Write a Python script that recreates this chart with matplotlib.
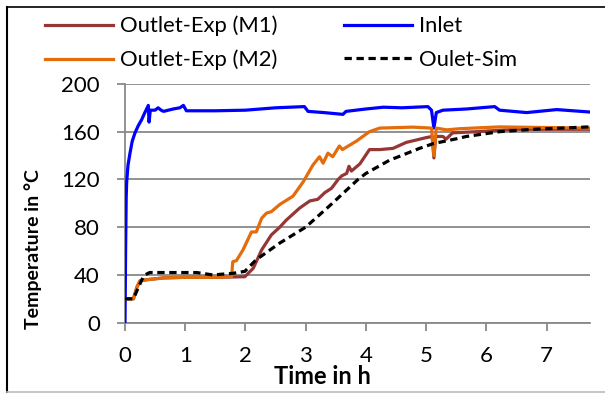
import matplotlib.pyplot as plt
from matplotlib.lines import Line2D

# inlet temperature
t_inlet = [0, 0.01, 0.02, 0.028, 0.05, 0.083, 0.12, 0.166, 0.22, 0.276, 0.33, 0.387, 0.40, 0.42,
           0.5, 0.55, 0.6, 0.64, 0.8, 0.91, 0.97, 1.02, 1.5, 2.0, 2.5, 2.98, 3.04, 3.3, 3.62, 3.67,
           4.0, 4.29, 4.6, 5.03, 5.09, 5.13, 5.17, 5.28, 5.67, 6.14, 6.22, 6.67, 7.17, 7.71]
v_inlet = [0, 60, 105, 118, 132, 142, 152, 159, 165, 170, 176, 182, 168, 178,
           178, 180, 178, 177, 179, 180, 182, 177.5, 177.5, 178, 180, 181, 177, 176, 174.5, 177,
           179, 180.5, 180, 181, 178, 163, 176, 178, 179, 181, 178, 176, 178.5, 176.5]

# outlet, measurement 1
t_m1 = [0, 0.14, 0.2, 0.25, 0.36, 0.64, 1.0, 1.5, 1.99, 2.13, 2.27, 2.43, 2.57, 2.68, 2.9, 3.07,
        3.2, 3.32, 3.43, 3.54, 3.6, 3.68, 3.72, 3.76, 3.9, 4.06, 4.23, 4.45, 4.67, 5.0, 5.1,
        5.13, 5.16, 5.28, 5.33, 5.44, 5.84, 6.5, 7.71]
v_m1 = [20, 20, 30, 35, 36, 37.5, 38, 38, 38.5, 45.6, 61, 73.5, 80, 86, 96, 102,
        103.3, 109, 112.6, 120, 123, 125, 131, 127, 133, 145, 145, 146, 151, 155, 156,
        138, 156, 156, 153.7, 159, 160, 162, 162]

# outlet, measurement 2
t_m2 = [0, 0.14, 0.2, 0.25, 0.36, 0.64, 1.0, 1.5, 1.77, 1.79, 1.85, 1.96, 2.1, 2.18, 2.27, 2.35,
        2.43, 2.57, 2.79, 2.96, 3.12, 3.23, 3.29, 3.37, 3.45, 3.56, 3.61, 3.84, 4.06, 4.23, 4.78,
        5.09, 5.13, 5.17, 5.34, 5.56, 6.22, 7.71]
v_m2 = [20, 20, 30, 35, 36, 37.5, 38, 38, 38.6, 51, 52, 61, 76, 76, 87.5, 91.8,
        93, 99, 106, 118, 132, 139, 133.6, 142, 139, 148, 145, 152, 160, 163, 163.8,
        163, 140, 163, 161.5, 162.5, 164, 163]

# outlet, simulation
t_sim = [0, 0.14, 0.2, 0.28, 0.33, 0.41, 0.8, 1.19, 1.46, 1.8, 1.99, 2.18, 2.57, 3.0, 3.4,
         3.87, 4.0, 4.39, 4.89, 5.12, 5.5, 5.67, 6.22, 6.78, 7.71]
v_sim = [20, 20, 27, 36, 40, 42, 42, 42, 40, 41.4, 43, 52.8, 66.7, 80, 98,
         120, 125, 136, 146, 150, 154, 156, 160, 162, 164]

xticks = [0, 1, 2, 3, 4, 5, 6, 7]
yticks = [0, 40, 80, 120, 160, 200]

plt.rcParams['font.family'] = ['Lato', 'DejaVu Sans']
grey = '#898989'

fig = plt.figure(figsize=(6.05, 3.94), dpi=100)
ax = fig.add_axes([0.2066, 0.181, 0.7684, 0.606])

ax.plot(t_m1, v_m1, color='#953735', lw=2.3, label='Outlet-Exp (M1)', zorder=3)
ax.plot(t_m2, v_m2, color='#E46C0A', lw=2.3, label='Outlet-Exp (M2)', zorder=4)
ax.plot(t_inlet, v_inlet, color='#0000FF', lw=2.3, label='Inlet', zorder=3)
ax.plot(t_sim, v_sim, color='black', lw=2.3, dashes=(2.3, 1.45), label='Oulet-Sim', zorder=5)

ax.set_xlim(0, 7.72)
ax.set_ylim(0, 200)
ax.set_xticks(xticks)
ax.set_yticks(yticks)
ax.yaxis.grid(True, color=grey, lw=1.3)
ax.set_axisbelow(True)
for s in ['top', 'right']:
    ax.spines[s].set_visible(False)
for s in ['left', 'bottom']:
    ax.spines[s].set_color(grey)
    ax.spines[s].set_linewidth(1.3)
ax.tick_params(axis='both', direction='out', length=6, width=1.3, color=grey, labelsize=16)
ax.tick_params(axis='y', pad=12)
ax.tick_params(axis='x', pad=10.5)

# axis titles
fig.text(322 / 605, 1 - 377 / 394, 'Time in h', fontsize=17, fontweight='bold',
         ha='center', va='center')
fig.text(33 / 605, 1 - 249 / 394, 'Temperature in °C', fontsize=14, fontweight='bold',
         rotation=90, ha='center', va='center')

fig.legend(loc='center left', bbox_to_anchor=(45 / 605, 1 - 43 / 394), ncol=2, frameon=False,
           fontsize=15.8, handlelength=3.1, handletextpad=0.34, columnspacing=3.0,
           labelspacing=0.62, borderpad=0, borderaxespad=0)

# chart border
fig.add_artist(Line2D([7 / 605, 7 / 605], [0.006, 0.982], color='black', lw=1.5))
fig.add_artist(Line2D([7 / 605, 1.0], [0.982, 0.982], color='black', lw=1.2))
fig.add_artist(Line2D([7 / 605, 1.0], [0.006, 0.006], color='#BBBBBB', lw=1.2))

fig.savefig('out.png', dpi=100)
